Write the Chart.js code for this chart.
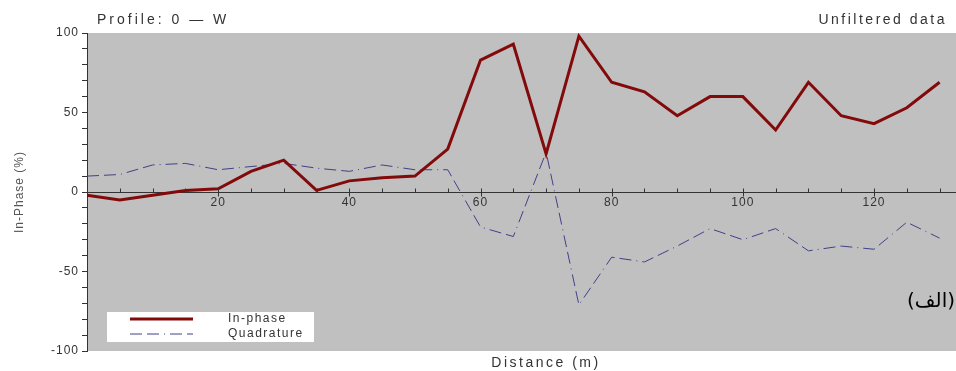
<!DOCTYPE html>
<html>
<head>
<meta charset="utf-8">
<script src="https://cdn.jsdelivr.net/npm/chart.js@4/dist/chart.umd.min.js"></script>
<style>
    html, body { margin: 0; padding: 0; background: #fff; }
    #wrap { position: relative; width: 956px; height: 371px; }
</style>
</head>
<body>
<div id="wrap"><canvas id="profileChart"></canvas></div>
<script>
// distance along the profile (m)
const distance = [0, 5, 10, 15, 20, 25, 30, 35, 40, 45, 50, 55, 60, 65, 70, 75, 80, 85, 90, 95, 100, 105, 110, 115, 120, 125, 130];
const inPhase = [-2, -5, -2, 1, 2, 13, 20, 1, 7, 9, 10, 27, 83, 93, 24, 98, 69, 63, 48, 60, 60, 39, 69, 48, 43, 53, 69];
const quadrature = [10, 11, 17, 18, 14, 16, 18, 15, 13, 17, 14, 14, -22, -28, 25, -71, -41, -44, -34, -23, -30, -23, -37, -34, -36, -19, -29];
const xTickLabels = [20, 40, 60, 80, 100, 120];
const yTickLabels = [-100, -50, 0, 50, 100];

const FONT = "'Liberation Sans', Arial, sans-serif";

function toPoints(xs, ys) {
    return xs.map((x, i) => ({ x: x, y: ys[i] }));
}

// grey plot area + a little letter spacing for the axis labels
const plotBackground = {
    id: "plotBackground",
    beforeDraw(chart) {
        const { ctx, chartArea } = chart;
        ctx.letterSpacing = "1px";
        ctx.save();
        ctx.fillStyle = "#c0c0c0";
        ctx.fillRect(chartArea.left, chartArea.top, chartArea.right - chartArea.left, chartArea.bottom - chartArea.top);
        ctx.restore();
    }
};

// tick marks on the distance axis (minor ones above the line, major ones across it)
const axisTicks = {
    id: "axisTicks",
    afterDraw(chart) {
        const ctx = chart.ctx;
        const xs = chart.scales.x;
        const y0 = Math.round(chart.scales.y.getPixelForValue(0)) + 0.5;
        ctx.save();
        ctx.strokeStyle = "#333";
        ctx.lineWidth = 1;
        ctx.beginPath();
        xs.ticks.forEach((t) => {
            if (t.value === 0) return;
            const px = Math.round(xs.getPixelForValue(t.value)) + 0.5;
            const major = xTickLabels.includes(t.value);
            ctx.moveTo(px, y0 - 4);
            ctx.lineTo(px, major ? y0 + 4 : y0);
        });
        ctx.stroke();
        ctx.restore();
    }
};

// titles and notes
const captions = {
    id: "captions",
    afterDraw(chart) {
        const ctx = chart.ctx;
        ctx.save();
        ctx.fillStyle = "#333";
        ctx.textBaseline = "middle";
        ctx.font = "14px " + FONT;
        ctx.letterSpacing = "3px";
        ctx.textAlign = "left";
        ctx.fillText("Profile: 0 — W", 97, 20);
        ctx.letterSpacing = "2.5px";
        ctx.textAlign = "right";
        ctx.fillText("Unfiltered data", 947, 20);
        ctx.textAlign = "center";
        ctx.fillText("Distance (m)", 546, 363);
        ctx.letterSpacing = "0px";
        ctx.fillStyle = "#000";
        ctx.font = "20px 'DejaVu Sans', sans-serif";
        ctx.textAlign = "right";
        ctx.fillText("(الف)", 955, 302);
        ctx.restore();
    }
};

// legend box inside the plot
const boxLegend = {
    id: "boxLegend",
    afterDatasetsDraw(chart) {
        const ctx = chart.ctx;
        ctx.save();
        ctx.fillStyle = "#fff";
        ctx.fillRect(107, 312, 207, 30);
        chart.data.datasets.forEach((ds, i) => {
            const y = 319 + i * 15;
            ctx.strokeStyle = ds.borderColor;
            ctx.lineWidth = ds.borderWidth;
            ctx.setLineDash(ds.borderDash || []);
            ctx.beginPath();
            ctx.moveTo(130, y);
            ctx.lineTo(193, y);
            ctx.stroke();
            ctx.setLineDash([]);
            ctx.fillStyle = "#333";
            ctx.font = "12px " + FONT;
            ctx.letterSpacing = "1.5px";
            ctx.textAlign = "left";
            ctx.textBaseline = "middle";
            ctx.fillText(ds.label, 228, y);
        });
        ctx.restore();
    }
};

const ctx = document.getElementById("profileChart").getContext("2d");
const profileChart = new Chart(ctx, {
    type: "line",
    data: {
        datasets: [{
            label: "In-phase",
            data: toPoints(distance, inPhase),
            borderColor: "#820a0a",
            borderWidth: 3,
            pointRadius: 0,
            tension: 0
        }, {
            label: "Quadrature",
            data: toPoints(distance, quadrature),
            borderColor: "#40408a",
            borderWidth: 1,
            borderDash: [12, 5, 12, 5, 1, 5],
            pointRadius: 0,
            tension: 0
        }]
    },
    options: {
        responsive: true,
        maintainAspectRatio: false,
        animation: false,
        layout: { padding: { top: 33, bottom: 20, left: 0, right: 0 } },
        plugins: {
            legend: { display: false },
            tooltip: { enabled: false }
        },
        scales: {
            x: {
                type: "linear",
                min: 0,
                max: 132.5,
                position: { y: 0 },
                border: { color: "#333", width: 1 },
                grid: {
                    drawOnChartArea: false,
                    drawTicks: false
                },
                ticks: {
                    stepSize: 5,
                    includeBounds: false,
                    autoSkip: false,
                    maxRotation: 0,
                    padding: 3,
                    color: "#333",
                    font: { family: FONT, size: 12 },
                    callback: (v) => xTickLabels.includes(v) ? String(v) : ""
                }
            },
            y: {
                min: -100,
                max: 100,
                border: { color: "#333", width: 1 },
                grid: {
                    drawOnChartArea: false,
                    tickLength: 5,
                    color: "#333"
                },
                ticks: {
                    stepSize: 10,
                    autoSkip: false,
                    padding: 3,
                    color: "#333",
                    font: { family: FONT, size: 12 },
                    callback: (v) => yTickLabels.includes(v) ? String(v) : ""
                },
                title: {
                    display: true,
                    text: "In-Phase (%)",
                    color: "#555",
                    padding: { top: 12, bottom: 0 },
                    font: { family: FONT, size: 12 }
                },
                afterFit: (scale) => { scale.width = 87; }
            }
        }
    },
    plugins: [plotBackground, axisTicks, boxLegend, captions]
});
</script>
</body>
</html>
